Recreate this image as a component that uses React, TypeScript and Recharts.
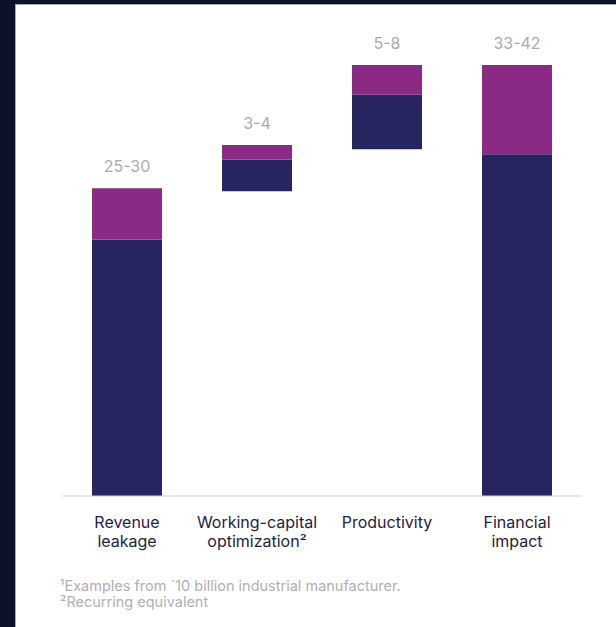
import { BarChart, Bar, XAxis, YAxis, LabelList } from 'recharts';

const CATEGORIES = [
  ['Revenue', 'leakage'],
  ['Working-capital', 'optimization²'],
  ['Productivity'],
  ['Financial', 'impact'],
];
const BASE = [0, 29.7, 33.8, 0];
const LOW = [25, 3.1, 5.3, 33.3];
const RANGE = [5, 1.4, 2.9, 8.7];
const RANGE_LABELS = ['25-30', '3-4', '5-8', '33-42'];
const FOOTNOTES = ['¹Examples from `10 billion industrial manufacturer.', '²Recurring equivalent'];

const NAVY = '#26255f';
const PURPLE = '#8b2a84';

const data = CATEGORIES.map((lines, i) => ({
  name: lines.join(' '),
  base: BASE[i],
  low: LOW[i],
  range: RANGE[i],
  label: RANGE_LABELS[i],
}));

function CategoryTick({ x, y, index }: { x: number; y: number; index: number }) {
  const lines = CATEGORIES[index] ?? [];
  return (
    <text x={x} y={y} textAnchor="middle" fill="#1e2340" fontSize={16} fontFamily="Inter">
      {lines.map((l, i) => (
        <tspan key={i} x={x} y={y + 32 + i * 19}>
          {l}
        </tspan>
      ))}
    </text>
  );
}

export default function App() {
  return (
    <div
      style={{
        position: 'absolute',
        left: 0,
        top: 0,
        width: 616,
        height: 627,
        overflow: 'hidden',
        background: '#0b1229',
        fontFamily: 'Inter, sans-serif',
      }}
    >
      <div
        style={{
          position: 'absolute',
          left: 15,
          top: 4,
          right: 0,
          bottom: 0,
          background: '#fff',
          borderLeft: '1px solid #a3a8b8',
          borderTop: '1px solid #a3a8b8',
        }}
      />
      <div style={{ position: 'absolute', left: 0, top: 0 }}>
        <BarChart
          width={616}
          height={627}
          data={data}
          margin={{ top: 65, right: 34, bottom: 71, left: 62 }}
          barSize={70}
        >
          <XAxis
            dataKey="name"
            height={60}
            interval={0}
            tickLine={false}
            tickSize={0}
            tickMargin={0}
            axisLine={{ stroke: '#d2d2d2', strokeWidth: 1 }}
            tick={(props: any) => <CategoryTick {...props} />}
          />
          <YAxis hide domain={[0, 42]} />
          <Bar dataKey="base" stackId="a" fill="transparent" isAnimationActive={false} />
          <Bar dataKey="low" stackId="a" fill={NAVY} isAnimationActive={false} />
          <Bar dataKey="range" stackId="a" fill={PURPLE} isAnimationActive={false}>
            <LabelList
              dataKey="label"
              position="top"
              offset={16}
              fill="#ababab"
              fontSize={16}
              fontFamily="Inter"
            />
          </Bar>
        </BarChart>
      </div>
      <div
        style={{
          position: 'absolute',
          left: 60,
          top: 578,
          fontSize: 14.5,
          lineHeight: '16px',
          color: '#b0b0b0',
        }}
      >
        {FOOTNOTES.map((f) => (
          <div key={f}>{f}</div>
        ))}
      </div>
    </div>
  );
}
